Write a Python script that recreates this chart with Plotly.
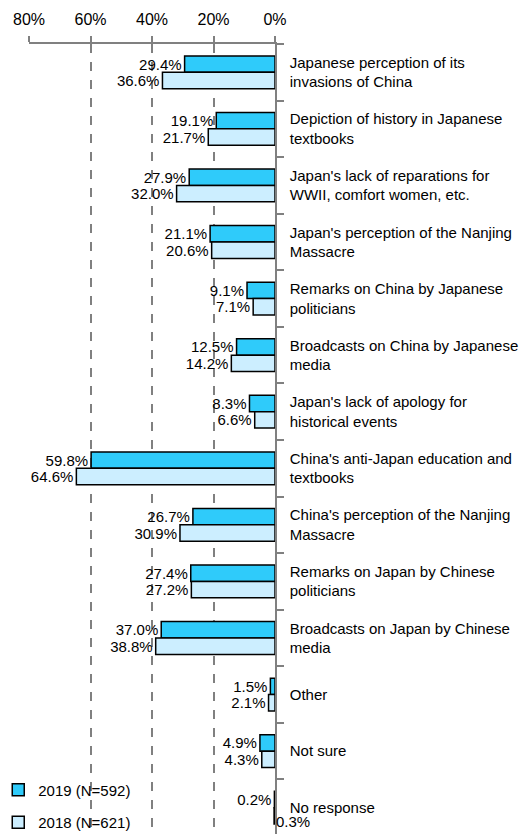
import plotly.graph_objects as go

categories = [
    "Japanese perception of its<br>invasions of China",
    "Depiction of history in Japanese<br>textbooks",
    "Japan's lack of reparations for<br>WWII, comfort women, etc.",
    "Japan's perception of the Nanjing<br>Massacre",
    "Remarks on China by Japanese<br>politicians",
    "Broadcasts on China by Japanese<br>media",
    "Japan's lack of apology for<br>historical events",
    "China's anti-Japan education and<br>textbooks",
    "China's perception of the Nanjing<br>Massacre",
    "Remarks on Japan by Chinese<br>politicians",
    "Broadcasts on Japan by Chinese<br>media",
    "Other",
    "Not sure",
    "No response",
]
values_2019 = [29.4, 19.1, 27.9, 21.1, 9.1, 12.5, 8.3, 59.8, 26.7, 27.4, 37.0, 1.5, 4.9, 0.2]
values_2018 = [36.6, 21.7, 32.0, 20.6, 7.1, 14.2, 6.6, 64.6, 30.9, 27.2, 38.8, 2.1, 4.3, 0.3]
name_2019 = "2019 (N=592)"
name_2018 = "2018 (N=621)"
tick_vals = [80, 60, 40, 20, 0]
tick_text = ["80%", "60%", "40%", "20%", "0%"]

FONT = "Liberation Sans, Arial, sans-serif"
FS = 15

def fmt(v):
    return f"{v:.1f}%"

text_2019 = [fmt(v) for v in values_2019]
text_2018 = [fmt(v) for v in values_2018]
# last 2018 label drawn separately (placed to the right of the axis in the original)
text_2018_bar = text_2018[:-1] + [""]

fig = go.Figure()
fig.add_trace(go.Bar(
    y=categories, x=values_2019, orientation="h", name=name_2019,
    marker=dict(color="#2FCBFA", line=dict(color="black", width=1.5)),
    text=text_2019, textposition="outside", cliponaxis=False,
    constraintext="none",
    textfont=dict(family=FONT, size=FS, color="black"),
    legendgroup="a",
))
fig.add_trace(go.Bar(
    y=categories, x=values_2018, orientation="h", name=name_2018,
    marker=dict(color="#CCEEFF", line=dict(color="black", width=1.5)),
    text=text_2018_bar, textposition="outside", cliponaxis=False,
    constraintext="none",
    textfont=dict(family=FONT, size=FS, color="black"),
    legendgroup="b",
))

fig.add_annotation(
    x=values_2018[-1], y=categories[-1], yshift=-14, xanchor="left",
    text=text_2018[-1], showarrow=False,
    font=dict(family=FONT, size=FS, color="black"),
)

fig.update_layout(
    width=529, height=834,
    margin=dict(l=21, r=262, t=36, b=6, autoexpand=False),
    paper_bgcolor="white", plot_bgcolor="white",
    barmode="group", bargap=0.42, bargroupgap=0,
    font=dict(family=FONT, size=FS, color="black"),
    showlegend=True,
    legend=dict(
        xref="paper", yref="container",
        x=-0.125, y=0.082, xanchor="left", yanchor="top",
        traceorder="grouped", tracegroupgap=10,
        font=dict(family=FONT, size=FS, color="black"),
        bgcolor="rgba(0,0,0,0)", itemwidth=30,
    ),
)
fig.update_xaxes(
    range=[80, 0], side="top", tickvals=tick_vals, ticktext=tick_text,
    showline=True, linecolor="#808080", linewidth=2,
    ticks="outside", ticklen=6, tickcolor="#808080", tickwidth=2,
    ticklabelstandoff=5,
    showgrid=True, gridcolor="#808080", griddash="dash", gridwidth=1.5,
    zeroline=False, tickfont=dict(family=FONT, size=16, color="black"),
    automargin=False,
)
fig.update_yaxes(
    autorange="reversed", side="right", showline=True,
    linecolor="#808080", linewidth=1.5,
    ticks="outside", ticklen=7, tickcolor="#808080", tickwidth=1.5,
    tickson="boundaries", ticklabelstandoff=10,
    showgrid=False, zeroline=False, automargin=False,
    tickfont=dict(family=FONT, size=FS, color="black"),
)

fig.write_html("out.html")
